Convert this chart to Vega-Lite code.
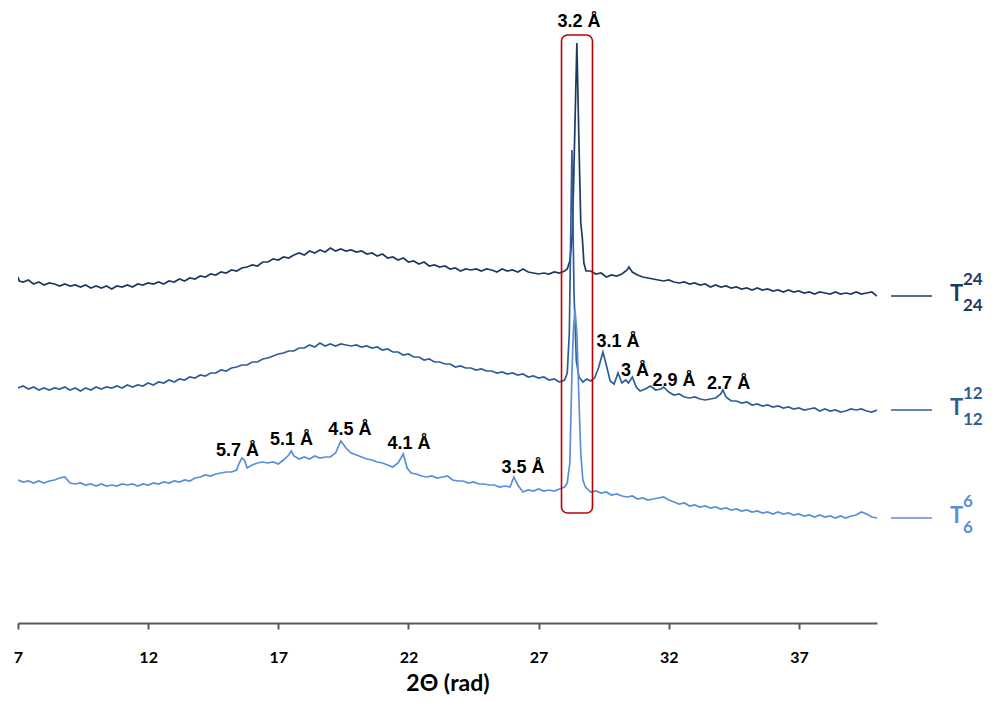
{
  "$schema": "https://vega.github.io/schema/vega-lite/v6.json",
  "autosize": {"type": "none"},
  "padding": {"left": 18, "top": 0, "right": 115, "bottom": 79},
  "width": 859,
  "height": 623,
  "config": {"view": {"stroke": null}, "background": "white"},
  "datasets": {
    "xrd": [
      {"s":"24","x":7.0,"y":346},{"s":"24","x":7.05,"y":342},{"s":"24","x":7.2,"y":341},{"s":"24","x":7.4,"y":343},{"s":"24","x":7.6,"y":339},{"s":"24","x":7.8,"y":341},{"s":"24","x":8.0,"y":338},{"s":"24","x":8.2,"y":340},{"s":"24","x":8.4,"y":339},{"s":"24","x":8.6,"y":337},{"s":"24","x":8.8,"y":339},{"s":"24","x":9.0,"y":337},{"s":"24","x":9.2,"y":338},{"s":"24","x":9.4,"y":336},{"s":"24","x":9.6,"y":338},{"s":"24","x":9.8,"y":335},{"s":"24","x":10.0,"y":337},{"s":"24","x":10.2,"y":335},{"s":"24","x":10.4,"y":337},{"s":"24","x":10.6,"y":334},{"s":"24","x":10.8,"y":337},{"s":"24","x":11.0,"y":336},{"s":"24","x":11.2,"y":338},{"s":"24","x":11.4,"y":336},{"s":"24","x":11.6,"y":339},{"s":"24","x":11.8,"y":338},{"s":"24","x":12.0,"y":340},{"s":"24","x":12.2,"y":339},{"s":"24","x":12.4,"y":341},{"s":"24","x":12.6,"y":339},{"s":"24","x":12.8,"y":342},{"s":"24","x":13.0,"y":341},{"s":"24","x":13.2,"y":344},{"s":"24","x":13.4,"y":342},{"s":"24","x":13.6,"y":345},{"s":"24","x":13.8,"y":344},{"s":"24","x":14.0,"y":347},{"s":"24","x":14.2,"y":346},{"s":"24","x":14.4,"y":349},{"s":"24","x":14.6,"y":348},{"s":"24","x":14.8,"y":351},{"s":"24","x":15.0,"y":350},{"s":"24","x":15.2,"y":353},{"s":"24","x":15.4,"y":352},{"s":"24","x":15.6,"y":355},{"s":"24","x":15.8,"y":356},{"s":"24","x":16.0,"y":358},{"s":"24","x":16.2,"y":357},{"s":"24","x":16.4,"y":361},{"s":"24","x":16.6,"y":361},{"s":"24","x":16.8,"y":364},{"s":"24","x":17.0,"y":363},{"s":"24","x":17.2,"y":366},{"s":"24","x":17.4,"y":365},{"s":"24","x":17.6,"y":368},{"s":"24","x":17.8,"y":370},{"s":"24","x":18.0,"y":368},{"s":"24","x":18.2,"y":372},{"s":"24","x":18.4,"y":370},{"s":"24","x":18.6,"y":373},{"s":"24","x":18.8,"y":371},{"s":"24","x":19.0,"y":375},{"s":"24","x":19.2,"y":372},{"s":"24","x":19.4,"y":374},{"s":"24","x":19.6,"y":372},{"s":"24","x":19.8,"y":373},{"s":"24","x":20.0,"y":371},{"s":"24","x":20.2,"y":372},{"s":"24","x":20.4,"y":369},{"s":"24","x":20.6,"y":370},{"s":"24","x":20.8,"y":367},{"s":"24","x":21.0,"y":369},{"s":"24","x":21.2,"y":365},{"s":"24","x":21.4,"y":366},{"s":"24","x":21.6,"y":363},{"s":"24","x":21.8,"y":365},{"s":"24","x":22.0,"y":361},{"s":"24","x":22.2,"y":362},{"s":"24","x":22.4,"y":359},{"s":"24","x":22.6,"y":361},{"s":"24","x":22.8,"y":357},{"s":"24","x":23.0,"y":358},{"s":"24","x":23.2,"y":356},{"s":"24","x":23.4,"y":357},{"s":"24","x":23.6,"y":354},{"s":"24","x":23.8,"y":355},{"s":"24","x":24.0,"y":352},{"s":"24","x":24.2,"y":354},{"s":"24","x":24.4,"y":353},{"s":"24","x":24.6,"y":354},{"s":"24","x":24.8,"y":352},{"s":"24","x":25.0,"y":354},{"s":"24","x":25.2,"y":353},{"s":"24","x":25.4,"y":351},{"s":"24","x":25.6,"y":354},{"s":"24","x":25.8,"y":352},{"s":"24","x":26.0,"y":353},{"s":"24","x":26.2,"y":351},{"s":"24","x":26.4,"y":354},{"s":"24","x":26.6,"y":351},{"s":"24","x":26.8,"y":350},{"s":"24","x":27.0,"y":349},{"s":"24","x":27.2,"y":350},{"s":"24","x":27.4,"y":349},{"s":"24","x":27.6,"y":351},{"s":"24","x":27.8,"y":350},{"s":"24","x":28.0,"y":352},{"s":"24","x":28.1,"y":354},{"s":"24","x":28.2,"y":362},{"s":"24","x":28.3,"y":390},{"s":"24","x":28.38,"y":480},{"s":"24","x":28.47,"y":580},{"s":"24","x":28.55,"y":480},{"s":"24","x":28.62,"y":400},{"s":"24","x":28.68,"y":385},{"s":"24","x":28.74,"y":360},{"s":"24","x":28.82,"y":352},{"s":"24","x":29.0,"y":352},{"s":"24","x":29.2,"y":349},{"s":"24","x":29.4,"y":350},{"s":"24","x":29.6,"y":346},{"s":"24","x":29.8,"y":348},{"s":"24","x":30.0,"y":347},{"s":"24","x":30.2,"y":349},{"s":"24","x":30.4,"y":353},{"s":"24","x":30.47,"y":356},{"s":"24","x":30.6,"y":351},{"s":"24","x":30.8,"y":348},{"s":"24","x":31.0,"y":346},{"s":"24","x":31.2,"y":345},{"s":"24","x":31.4,"y":344},{"s":"24","x":31.6,"y":343},{"s":"24","x":31.8,"y":342},{"s":"24","x":32.0,"y":343},{"s":"24","x":32.2,"y":341},{"s":"24","x":32.4,"y":340},{"s":"24","x":32.6,"y":341},{"s":"24","x":32.8,"y":339},{"s":"24","x":33.0,"y":340},{"s":"24","x":33.2,"y":338},{"s":"24","x":33.4,"y":339},{"s":"24","x":33.6,"y":336},{"s":"24","x":33.8,"y":338},{"s":"24","x":34.0,"y":336},{"s":"24","x":34.2,"y":337},{"s":"24","x":34.4,"y":335},{"s":"24","x":34.6,"y":336},{"s":"24","x":34.8,"y":334},{"s":"24","x":35.0,"y":335},{"s":"24","x":35.2,"y":333},{"s":"24","x":35.4,"y":335},{"s":"24","x":35.6,"y":333},{"s":"24","x":35.8,"y":334},{"s":"24","x":36.0,"y":332},{"s":"24","x":36.2,"y":333},{"s":"24","x":36.4,"y":331},{"s":"24","x":36.6,"y":333},{"s":"24","x":36.8,"y":331},{"s":"24","x":37.0,"y":332},{"s":"24","x":37.2,"y":330},{"s":"24","x":37.4,"y":331},{"s":"24","x":37.6,"y":329},{"s":"24","x":37.8,"y":331},{"s":"24","x":38.0,"y":330},{"s":"24","x":38.2,"y":329},{"s":"24","x":38.4,"y":331},{"s":"24","x":38.6,"y":329},{"s":"24","x":38.8,"y":330},{"s":"24","x":39.0,"y":329},{"s":"24","x":39.2,"y":331},{"s":"24","x":39.4,"y":329},{"s":"24","x":39.6,"y":330},{"s":"24","x":39.8,"y":331},{"s":"24","x":40.0,"y":327},
      {"s":"12","x":7.0,"y":235},{"s":"12","x":7.2,"y":237},{"s":"12","x":7.4,"y":234},{"s":"12","x":7.6,"y":236},{"s":"12","x":7.8,"y":233},{"s":"12","x":8.0,"y":235},{"s":"12","x":8.2,"y":233},{"s":"12","x":8.4,"y":235},{"s":"12","x":8.6,"y":234},{"s":"12","x":8.8,"y":236},{"s":"12","x":9.0,"y":233},{"s":"12","x":9.2,"y":235},{"s":"12","x":9.4,"y":232},{"s":"12","x":9.6,"y":235},{"s":"12","x":9.8,"y":233},{"s":"12","x":10.0,"y":236},{"s":"12","x":10.2,"y":234},{"s":"12","x":10.4,"y":236},{"s":"12","x":10.6,"y":235},{"s":"12","x":10.8,"y":237},{"s":"12","x":11.0,"y":235},{"s":"12","x":11.2,"y":238},{"s":"12","x":11.4,"y":236},{"s":"12","x":11.6,"y":238},{"s":"12","x":11.8,"y":237},{"s":"12","x":12.0,"y":240},{"s":"12","x":12.2,"y":238},{"s":"12","x":12.4,"y":241},{"s":"12","x":12.6,"y":240},{"s":"12","x":12.8,"y":243},{"s":"12","x":13.0,"y":241},{"s":"12","x":13.2,"y":244},{"s":"12","x":13.4,"y":243},{"s":"12","x":13.6,"y":246},{"s":"12","x":13.8,"y":245},{"s":"12","x":14.0,"y":248},{"s":"12","x":14.2,"y":247},{"s":"12","x":14.4,"y":250},{"s":"12","x":14.6,"y":250},{"s":"12","x":14.8,"y":253},{"s":"12","x":15.0,"y":252},{"s":"12","x":15.2,"y":255},{"s":"12","x":15.4,"y":256},{"s":"12","x":15.6,"y":258},{"s":"12","x":15.8,"y":258},{"s":"12","x":16.0,"y":261},{"s":"12","x":16.2,"y":261},{"s":"12","x":16.4,"y":264},{"s":"12","x":16.6,"y":265},{"s":"12","x":16.8,"y":267},{"s":"12","x":17.0,"y":269},{"s":"12","x":17.2,"y":270},{"s":"12","x":17.4,"y":272},{"s":"12","x":17.6,"y":272},{"s":"12","x":17.8,"y":275},{"s":"12","x":18.0,"y":275},{"s":"12","x":18.2,"y":278},{"s":"12","x":18.4,"y":276},{"s":"12","x":18.6,"y":280},{"s":"12","x":18.8,"y":277},{"s":"12","x":19.0,"y":279},{"s":"12","x":19.2,"y":277},{"s":"12","x":19.4,"y":279},{"s":"12","x":19.6,"y":278},{"s":"12","x":19.8,"y":277},{"s":"12","x":20.0,"y":278},{"s":"12","x":20.2,"y":276},{"s":"12","x":20.4,"y":277},{"s":"12","x":20.6,"y":275},{"s":"12","x":20.8,"y":276},{"s":"12","x":21.0,"y":273},{"s":"12","x":21.2,"y":274},{"s":"12","x":21.4,"y":271},{"s":"12","x":21.6,"y":271},{"s":"12","x":21.8,"y":268},{"s":"12","x":22.0,"y":269},{"s":"12","x":22.2,"y":266},{"s":"12","x":22.4,"y":266},{"s":"12","x":22.6,"y":263},{"s":"12","x":22.8,"y":264},{"s":"12","x":23.0,"y":261},{"s":"12","x":23.2,"y":261},{"s":"12","x":23.4,"y":259},{"s":"12","x":23.6,"y":259},{"s":"12","x":23.8,"y":256},{"s":"12","x":24.0,"y":257},{"s":"12","x":24.2,"y":255},{"s":"12","x":24.4,"y":255},{"s":"12","x":24.6,"y":253},{"s":"12","x":24.8,"y":254},{"s":"12","x":25.0,"y":252},{"s":"12","x":25.2,"y":252},{"s":"12","x":25.4,"y":250},{"s":"12","x":25.6,"y":251},{"s":"12","x":25.8,"y":249},{"s":"12","x":26.0,"y":250},{"s":"12","x":26.2,"y":248},{"s":"12","x":26.4,"y":249},{"s":"12","x":26.6,"y":246},{"s":"12","x":26.8,"y":247},{"s":"12","x":27.0,"y":245},{"s":"12","x":27.2,"y":246},{"s":"12","x":27.4,"y":243},{"s":"12","x":27.6,"y":244},{"s":"12","x":27.8,"y":241},{"s":"12","x":28.0,"y":243},{"s":"12","x":28.1,"y":250},{"s":"12","x":28.18,"y":290},{"s":"12","x":28.28,"y":473},{"s":"12","x":28.36,"y":330},{"s":"12","x":28.45,"y":262},{"s":"12","x":28.55,"y":246},{"s":"12","x":28.7,"y":241},{"s":"12","x":28.85,"y":244},{"s":"12","x":29.0,"y":242},{"s":"12","x":29.15,"y":245},{"s":"12","x":29.3,"y":255},{"s":"12","x":29.47,"y":271},{"s":"12","x":29.6,"y":258},{"s":"12","x":29.75,"y":242},{"s":"12","x":29.9,"y":239},{"s":"12","x":30.05,"y":250},{"s":"12","x":30.2,"y":240},{"s":"12","x":30.35,"y":243},{"s":"12","x":30.45,"y":240},{"s":"12","x":30.6,"y":246},{"s":"12","x":30.75,"y":236},{"s":"12","x":30.9,"y":232},{"s":"12","x":31.1,"y":234},{"s":"12","x":31.3,"y":237},{"s":"12","x":31.5,"y":233},{"s":"12","x":31.7,"y":234},{"s":"12","x":31.8,"y":236},{"s":"12","x":32.0,"y":231},{"s":"12","x":32.2,"y":228},{"s":"12","x":32.4,"y":229},{"s":"12","x":32.6,"y":226},{"s":"12","x":32.8,"y":225},{"s":"12","x":33.0,"y":226},{"s":"12","x":33.2,"y":224},{"s":"12","x":33.4,"y":223},{"s":"12","x":33.6,"y":224},{"s":"12","x":33.8,"y":225},{"s":"12","x":34.0,"y":229},{"s":"12","x":34.08,"y":233},{"s":"12","x":34.2,"y":226},{"s":"12","x":34.4,"y":222},{"s":"12","x":34.6,"y":222},{"s":"12","x":34.8,"y":220},{"s":"12","x":35.0,"y":221},{"s":"12","x":35.2,"y":218},{"s":"12","x":35.4,"y":219},{"s":"12","x":35.6,"y":217},{"s":"12","x":35.8,"y":218},{"s":"12","x":36.0,"y":216},{"s":"12","x":36.2,"y":217},{"s":"12","x":36.4,"y":215},{"s":"12","x":36.6,"y":216},{"s":"12","x":36.8,"y":214},{"s":"12","x":37.0,"y":215},{"s":"12","x":37.2,"y":213},{"s":"12","x":37.4,"y":214},{"s":"12","x":37.6,"y":215},{"s":"12","x":37.8,"y":212},{"s":"12","x":38.0,"y":214},{"s":"12","x":38.2,"y":212},{"s":"12","x":38.4,"y":213},{"s":"12","x":38.6,"y":211},{"s":"12","x":38.8,"y":212},{"s":"12","x":39.0,"y":214},{"s":"12","x":39.2,"y":213},{"s":"12","x":39.4,"y":214},{"s":"12","x":39.6,"y":212},{"s":"12","x":39.8,"y":211},{"s":"12","x":40.0,"y":213},
      {"s":"6","x":7.0,"y":143},{"s":"6","x":7.2,"y":141},{"s":"6","x":7.4,"y":142},{"s":"6","x":7.6,"y":140},{"s":"6","x":7.8,"y":142},{"s":"6","x":8.0,"y":140},{"s":"6","x":8.2,"y":142},{"s":"6","x":8.4,"y":143},{"s":"6","x":8.6,"y":145},{"s":"6","x":8.8,"y":146},{"s":"6","x":9.0,"y":140},{"s":"6","x":9.2,"y":139},{"s":"6","x":9.4,"y":140},{"s":"6","x":9.6,"y":138},{"s":"6","x":9.8,"y":139},{"s":"6","x":10.0,"y":137},{"s":"6","x":10.2,"y":139},{"s":"6","x":10.4,"y":137},{"s":"6","x":10.6,"y":138},{"s":"6","x":10.8,"y":137},{"s":"6","x":11.0,"y":139},{"s":"6","x":11.2,"y":138},{"s":"6","x":11.4,"y":139},{"s":"6","x":11.6,"y":137},{"s":"6","x":11.8,"y":139},{"s":"6","x":12.0,"y":138},{"s":"6","x":12.2,"y":140},{"s":"6","x":12.4,"y":139},{"s":"6","x":12.6,"y":141},{"s":"6","x":12.8,"y":140},{"s":"6","x":13.0,"y":142},{"s":"6","x":13.2,"y":141},{"s":"6","x":13.4,"y":143},{"s":"6","x":13.6,"y":142},{"s":"6","x":13.8,"y":145},{"s":"6","x":14.0,"y":146},{"s":"6","x":14.2,"y":148},{"s":"6","x":14.4,"y":147},{"s":"6","x":14.6,"y":149},{"s":"6","x":14.8,"y":150},{"s":"6","x":15.0,"y":151},{"s":"6","x":15.2,"y":151},{"s":"6","x":15.4,"y":153},{"s":"6","x":15.5,"y":160},{"s":"6","x":15.6,"y":165},{"s":"6","x":15.7,"y":163},{"s":"6","x":15.8,"y":155},{"s":"6","x":16.0,"y":158},{"s":"6","x":16.2,"y":160},{"s":"6","x":16.4,"y":161},{"s":"6","x":16.6,"y":160},{"s":"6","x":16.8,"y":161},{"s":"6","x":17.0,"y":159},{"s":"6","x":17.2,"y":163},{"s":"6","x":17.4,"y":168},{"s":"6","x":17.5,"y":172},{"s":"6","x":17.6,"y":167},{"s":"6","x":17.8,"y":164},{"s":"6","x":18.0,"y":166},{"s":"6","x":18.2,"y":164},{"s":"6","x":18.4,"y":167},{"s":"6","x":18.6,"y":165},{"s":"6","x":18.8,"y":166},{"s":"6","x":19.0,"y":166},{"s":"6","x":19.2,"y":170},{"s":"6","x":19.4,"y":182},{"s":"6","x":19.6,"y":175},{"s":"6","x":19.8,"y":170},{"s":"6","x":20.0,"y":168},{"s":"6","x":20.2,"y":166},{"s":"6","x":20.4,"y":164},{"s":"6","x":20.6,"y":163},{"s":"6","x":20.8,"y":161},{"s":"6","x":21.0,"y":160},{"s":"6","x":21.2,"y":158},{"s":"6","x":21.4,"y":156},{"s":"6","x":21.6,"y":160},{"s":"6","x":21.8,"y":169},{"s":"6","x":21.95,"y":155},{"s":"6","x":22.1,"y":150},{"s":"6","x":22.3,"y":149},{"s":"6","x":22.5,"y":147},{"s":"6","x":22.7,"y":146},{"s":"6","x":22.9,"y":147},{"s":"6","x":23.1,"y":145},{"s":"6","x":23.3,"y":146},{"s":"6","x":23.5,"y":147},{"s":"6","x":23.7,"y":143},{"s":"6","x":23.9,"y":142},{"s":"6","x":24.1,"y":142},{"s":"6","x":24.3,"y":140},{"s":"6","x":24.5,"y":141},{"s":"6","x":24.7,"y":139},{"s":"6","x":24.9,"y":139},{"s":"6","x":25.1,"y":138},{"s":"6","x":25.3,"y":138},{"s":"6","x":25.5,"y":136},{"s":"6","x":25.7,"y":137},{"s":"6","x":25.9,"y":136},{"s":"6","x":26.05,"y":146},{"s":"6","x":26.2,"y":138},{"s":"6","x":26.4,"y":131},{"s":"6","x":26.6,"y":133},{"s":"6","x":26.8,"y":132},{"s":"6","x":27.0,"y":134},{"s":"6","x":27.2,"y":132},{"s":"6","x":27.4,"y":133},{"s":"6","x":27.6,"y":132},{"s":"6","x":27.8,"y":134},{"s":"6","x":28.0,"y":136},{"s":"6","x":28.1,"y":140},{"s":"6","x":28.2,"y":160},{"s":"6","x":28.28,"y":250},{"s":"6","x":28.34,"y":295},{"s":"6","x":28.4,"y":313},{"s":"6","x":28.47,"y":290},{"s":"6","x":28.55,"y":223},{"s":"6","x":28.62,"y":170},{"s":"6","x":28.7,"y":143},{"s":"6","x":28.8,"y":136},{"s":"6","x":29.0,"y":131},{"s":"6","x":29.2,"y":132},{"s":"6","x":29.4,"y":130},{"s":"6","x":29.6,"y":131},{"s":"6","x":29.8,"y":128},{"s":"6","x":30.0,"y":129},{"s":"6","x":30.2,"y":127},{"s":"6","x":30.4,"y":126},{"s":"6","x":30.6,"y":127},{"s":"6","x":30.8,"y":124},{"s":"6","x":31.0,"y":125},{"s":"6","x":31.2,"y":123},{"s":"6","x":31.4,"y":124},{"s":"6","x":31.6,"y":125},{"s":"6","x":31.8,"y":126},{"s":"6","x":32.0,"y":123},{"s":"6","x":32.2,"y":121},{"s":"6","x":32.4,"y":119},{"s":"6","x":32.6,"y":120},{"s":"6","x":32.8,"y":117},{"s":"6","x":33.0,"y":118},{"s":"6","x":33.2,"y":116},{"s":"6","x":33.4,"y":117},{"s":"6","x":33.6,"y":115},{"s":"6","x":33.8,"y":116},{"s":"6","x":34.0,"y":114},{"s":"6","x":34.2,"y":115},{"s":"6","x":34.4,"y":113},{"s":"6","x":34.6,"y":114},{"s":"6","x":34.8,"y":112},{"s":"6","x":35.0,"y":113},{"s":"6","x":35.2,"y":111},{"s":"6","x":35.4,"y":112},{"s":"6","x":35.6,"y":110},{"s":"6","x":35.8,"y":111},{"s":"6","x":36.0,"y":109},{"s":"6","x":36.2,"y":111},{"s":"6","x":36.4,"y":109},{"s":"6","x":36.6,"y":110},{"s":"6","x":36.8,"y":108},{"s":"6","x":37.0,"y":109},{"s":"6","x":37.2,"y":107},{"s":"6","x":37.4,"y":108},{"s":"6","x":37.6,"y":106},{"s":"6","x":37.8,"y":108},{"s":"6","x":38.0,"y":106},{"s":"6","x":38.2,"y":107},{"s":"6","x":38.4,"y":105},{"s":"6","x":38.6,"y":107},{"s":"6","x":38.8,"y":105},{"s":"6","x":39.0,"y":107},{"s":"6","x":39.2,"y":108},{"s":"6","x":39.4,"y":111},{"s":"6","x":39.6,"y":109},{"s":"6","x":39.8,"y":106},{"s":"6","x":40.0,"y":105}
    ],
    "box": [{"x1": 27.88, "x2": 29.07, "y1": 110, "y2": 588}],
    "labels": [
      {"x": 28.55, "y": 596, "t": "3.2 Å"},
      {"x": 30.05, "y": 276, "t": "3.1 Å"},
      {"x": 30.70, "y": 247, "t": "3 Å"},
      {"x": 32.20, "y": 237, "t": "2.9 Å"},
      {"x": 34.30, "y": 234, "t": "2.7 Å"},
      {"x": 15.43, "y": 167, "t": "5.7 Å"},
      {"x": 17.51, "y": 178, "t": "5.1 Å"},
      {"x": 19.75, "y": 188, "t": "4.5 Å"},
      {"x": 22.02, "y": 174, "t": "4.1 Å"},
      {"x": 26.40, "y": 150, "t": "3.5 Å"}
    ]
  },
  "layer": [
    {
      "data": {"name": "xrd"},
      "mark": {"type": "line", "strokeWidth": 1.7, "clip": true},
      "encoding": {
        "x": {"field": "x", "type": "quantitative",
          "scale": {"domain": [7, 40], "nice": false, "zero": false},
          "axis": {"values": [7, 12, 17, 22, 27, 32, 37], "title": "2Θ (rad)", "grid": false,
            "labelFlush": false, "domainColor": "#595959", "domainWidth": 2, "tickColor": "#595959",
            "tickWidth": 2, "tickSize": 6, "labelFont": "Lato", "labelFontWeight": "bold",
            "labelFontSize": 16, "labelColor": "#000000", "labelPadding": 20,
            "titleFont": "Lato", "titleFontWeight": "bold", "titleFontSize": 23,
            "titleColor": "#000000", "titlePadding": 7}},
        "y": {"field": "y", "type": "quantitative",
          "scale": {"domain": [0, 623], "nice": false, "zero": false}, "axis": null},
        "color": {"field": "s", "type": "nominal",
          "scale": {"domain": ["24", "12", "6"], "range": ["#1F3A62", "#2F5D98", "#5B8ED8"]},
          "legend": null},
        "order": {"field": "x", "type": "quantitative"}
      }
    },
    {
      "data": {"name": "box"},
      "mark": {"type": "rect", "fill": "transparent", "stroke": "#C00000", "strokeWidth": 1.6, "cornerRadius": 6},
      "encoding": {
        "x": {"field": "x1", "type": "quantitative"},
        "x2": {"field": "x2"},
        "y": {"field": "y1", "type": "quantitative"},
        "y2": {"field": "y2"}
      }
    },
    {
      "data": {"name": "labels"},
      "mark": {"type": "text", "font": "Liberation Sans", "fontWeight": "bold", "fontSize": 18,
        "align": "center", "baseline": "alphabetic", "color": "#000000"},
      "encoding": {
        "x": {"field": "x", "type": "quantitative"},
        "y": {"field": "y", "type": "quantitative"},
        "text": {"field": "t"}
      }
    },
    {
      "data": {"name": "xrd"},
      "transform": [{"filter": "datum.x == 40"}],
      "mark": {"type": "point", "shape": "stroke", "size": 1681, "strokeWidth": 1.5, "xOffset": 34.5, "clip": false, "opacity": 1},
      "encoding": {
        "x": {"field": "x", "type": "quantitative"},
        "y": {"field": "y", "type": "quantitative"},
        "color": {"field": "s", "type": "nominal", "legend": null}
      }
    },
    {
      "data": {"name": "xrd"},
      "transform": [{"filter": "datum.x == 40"}],
      "mark": {"type": "text", "text": "T", "align": "left", "baseline": "middle", "dx": 73, "dy": -2,
        "font": "Lato", "fontWeight": "bold", "fontSize": 22, "clip": false},
      "encoding": {
        "x": {"field": "x", "type": "quantitative"},
        "y": {"field": "y", "type": "quantitative"},
        "color": {"field": "s", "type": "nominal", "legend": null}
      }
    },
    {
      "data": {"name": "xrd"},
      "transform": [{"filter": "datum.x == 40"}],
      "mark": {"type": "text", "align": "left", "baseline": "middle", "dx": 86, "dy": -16,
        "font": "Lato", "fontWeight": "bold", "fontSize": 17, "clip": false},
      "encoding": {
        "x": {"field": "x", "type": "quantitative"},
        "y": {"field": "y", "type": "quantitative"},
        "text": {"field": "s"},
        "color": {"field": "s", "type": "nominal", "legend": null}
      }
    },
    {
      "data": {"name": "xrd"},
      "transform": [{"filter": "datum.x == 40"}],
      "mark": {"type": "text", "align": "left", "baseline": "middle", "dx": 86, "dy": 10,
        "font": "Lato", "fontWeight": "bold", "fontSize": 17, "clip": false},
      "encoding": {
        "x": {"field": "x", "type": "quantitative"},
        "y": {"field": "y", "type": "quantitative"},
        "text": {"field": "s"},
        "color": {"field": "s", "type": "nominal", "legend": null}
      }
    }
  ]
}
